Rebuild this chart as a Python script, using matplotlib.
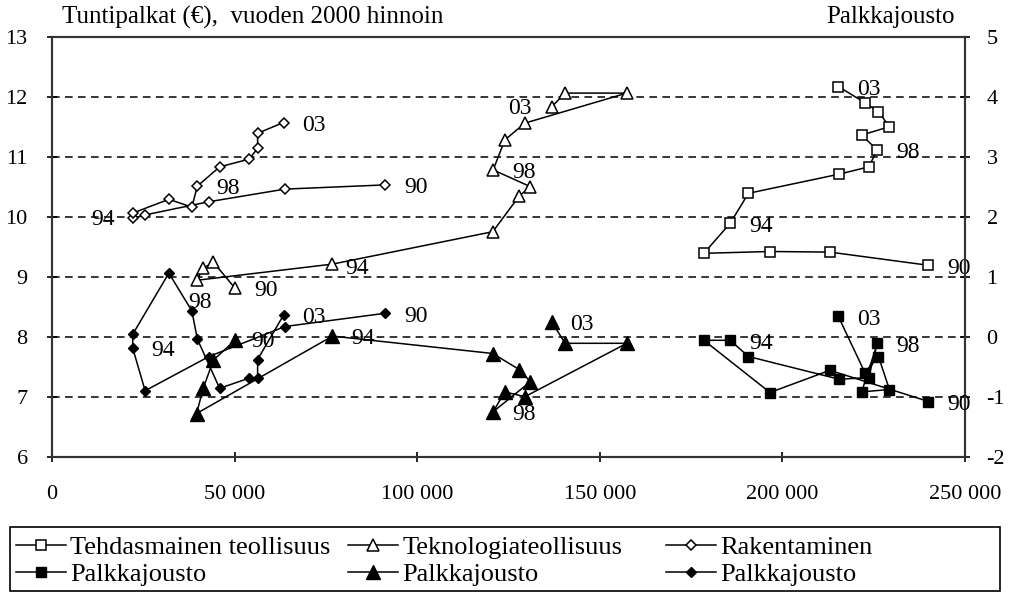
import matplotlib
matplotlib.use("Agg")
import matplotlib.pyplot as plt
from matplotlib.patches import Rectangle

plt.rcParams['font.family'] = ['Liberation Serif', 'DejaVu Serif']
plt.rcParams['axes.unicode_minus'] = False

vuodet = ["90", "91", "92", "93", "94", "95", "96", "97", "98", "99", "00", "01", "02", "03"]

# Tehdasmainen teollisuus
teh_x = [240000, 213000, 196600, 178500, 185700, 190700, 215600, 223600, 226000, 221700, 229300, 226300, 222600, 215300]
teh_palkka = [9.19, 9.41, 9.42, 9.39, 9.89, 10.39, 10.71, 10.83, 11.11, 11.36, 11.50, 11.75, 11.90, 12.17]
teh_jousto = [-1.08, -0.56, -0.93, -0.06, -0.06, -0.33, -0.71, -0.68, -0.11, -0.92, -0.88, -0.33, -0.60, 0.34]

# Teknologiateollisuus
tek_x = [50100, 44200, 41400, 39600, 76800, 120700, 128000, 131000, 120800, 124000, 129500, 157400, 140500, 136800]
tek_palkka = [8.81, 9.24, 9.14, 8.94, 9.21, 9.75, 10.35, 10.50, 10.78, 11.28, 11.56, 12.06, 12.06, 11.83]
tek_jousto = [-0.06, -0.39, -0.86, -1.28, 0.01, -0.28, -0.55, -0.75, -1.25, -0.92, -1.00, -0.11, -0.11, 0.25]

# Rakentaminen
rak_x = [91200, 63800, 43000, 25500, 22100, 22100, 32000, 38300, 39800, 45900, 54000, 56300, 56300, 63400]
rak_palkka = [10.53, 10.46, 10.25, 10.03, 9.97, 10.06, 10.29, 10.16, 10.51, 10.83, 10.96, 11.14, 11.39, 11.57]
rak_jousto = [0.39, 0.17, -0.33, -0.90, -0.19, 0.04, 1.06, 0.43, -0.04, -0.86, -0.69, -0.68, -0.38, 0.36]

x_ticks = [0, 50000, 100000, 150000, 200000, 250000]
x_labels = ["0", "50 000", "100 000", "150 000", "200 000", "250 000"]
left_ticks = [6, 7, 8, 9, 10, 11, 12, 13]
right_ticks = [-2, -1, 0, 1, 2, 3, 4, 5]

FS = 16

fig = plt.figure(figsize=(10.12, 5.93), dpi=100)
ax = fig.add_axes([52 / 1012, 1 - 456.7 / 593, (965 - 52) / 1012, 420 / 593])
ax2 = ax.twinx()

ax.set_xlim(0, 250000)
ax.set_ylim(6, 13)
ax2.set_ylim(-2, 5)

for y in left_ticks[1:-1]:
    ax.axhline(y, color='black', lw=1.1, ls=(0, (5, 3.5)), zorder=1)

line_kw = dict(color='black', lw=1.1, zorder=3)
h1, = ax.plot(teh_x, teh_palkka, marker='s', ms=7.5, mfc='white', mec='black', mew=1.1, **line_kw)
h3, = ax.plot(tek_x, tek_palkka, marker='^', ms=8.5, mfc='white', mec='black', mew=1.1, **line_kw)
h5, = ax.plot(rak_x, rak_palkka, marker='D', ms=5.5, mfc='white', mec='black', mew=1.1, **line_kw)
h2, = ax2.plot(teh_x, teh_jousto, marker='s', ms=7.5, mfc='black', mec='black', **line_kw)
h4, = ax2.plot(tek_x, tek_jousto, marker='^', ms=9.5, mfc='black', mec='black', **line_kw)
h6, = ax2.plot(rak_x, rak_jousto, marker='D', ms=5.5, mfc='black', mec='black', **line_kw)

# year labels, offsets in points
default_off = (22, -2)
label_specs = [
    (ax, teh_x, teh_palkka, {}),
    (ax2, teh_x, teh_jousto, {}),
    (ax, tek_x, tek_palkka, {"94": (18, -3), "03": (-23, -1)}),
    (ax2, tek_x, tek_jousto, {"90": (20, -1)}),
    (ax, rak_x, rak_palkka, {"94": (-21, -1)}),
    (ax2, rak_x, rak_jousto, {"98": (2, 26)}),
]
for a, xs, ys, special in label_specs:
    for yr in ["90", "94", "98", "03"]:
        i = vuodet.index(yr)
        off = special.get(yr, default_off)
        a.annotate(yr, (xs[i], ys[i]), xytext=off, textcoords='offset points',
                   ha='center', va='center', fontsize=17, zorder=5)

ax.set_xticks(x_ticks)
ax.set_xticklabels(x_labels)
ax.set_yticks(left_ticks)
ax2.set_yticks(right_ticks)
ax.tick_params(axis='x', direction='inout', length=7, width=1.2, pad=17, labelsize=FS)
ax.tick_params(axis='y', direction='inout', length=7, width=1.2, pad=14, labelsize=FS)
ax2.tick_params(axis='y', direction='inout', length=7, width=1.2, pad=12, labelsize=FS)
for a in (ax, ax2):
    for s in a.spines.values():
        s.set_linewidth(1.5)
        s.set_color('#333333')

fig.text(62 / 1012, 1 - 17 / 593, "Tuntipalkat (€),  vuoden 2000 hinnoin", fontsize=18, va='center', ha='left')
fig.text(955 / 1012, 1 - 17 / 593, "Palkkajousto", fontsize=18, va='center', ha='right')

# legend: one framed box, three columns at fixed positions
fig.patches.append(Rectangle((10 / 1012, 2 / 593), 990 / 1012, 64 / 593,
                             transform=fig.transFigure, fill=False, edgecolor='black', lw=1.2))
columns = [
    ([h1, h2], ["Tehdasmainen teollisuus", "Palkkajousto"], 16),
    ([h3, h4], ["Teknologiateollisuus", "Palkkajousto"], 348),
    ([h5, h6], ["Rakentaminen", "Palkkajousto"], 666),
]
for hs, labs, x0 in columns:
    fig.legend(hs, labs, loc='upper left', bbox_to_anchor=(x0 / 1012, 1 - 536 / 593),
               fontsize=19, frameon=False, borderpad=0, borderaxespad=0,
               labelspacing=0.12, handlelength=1.9, handletextpad=0.15)

fig.savefig("out.png", dpi=100)
